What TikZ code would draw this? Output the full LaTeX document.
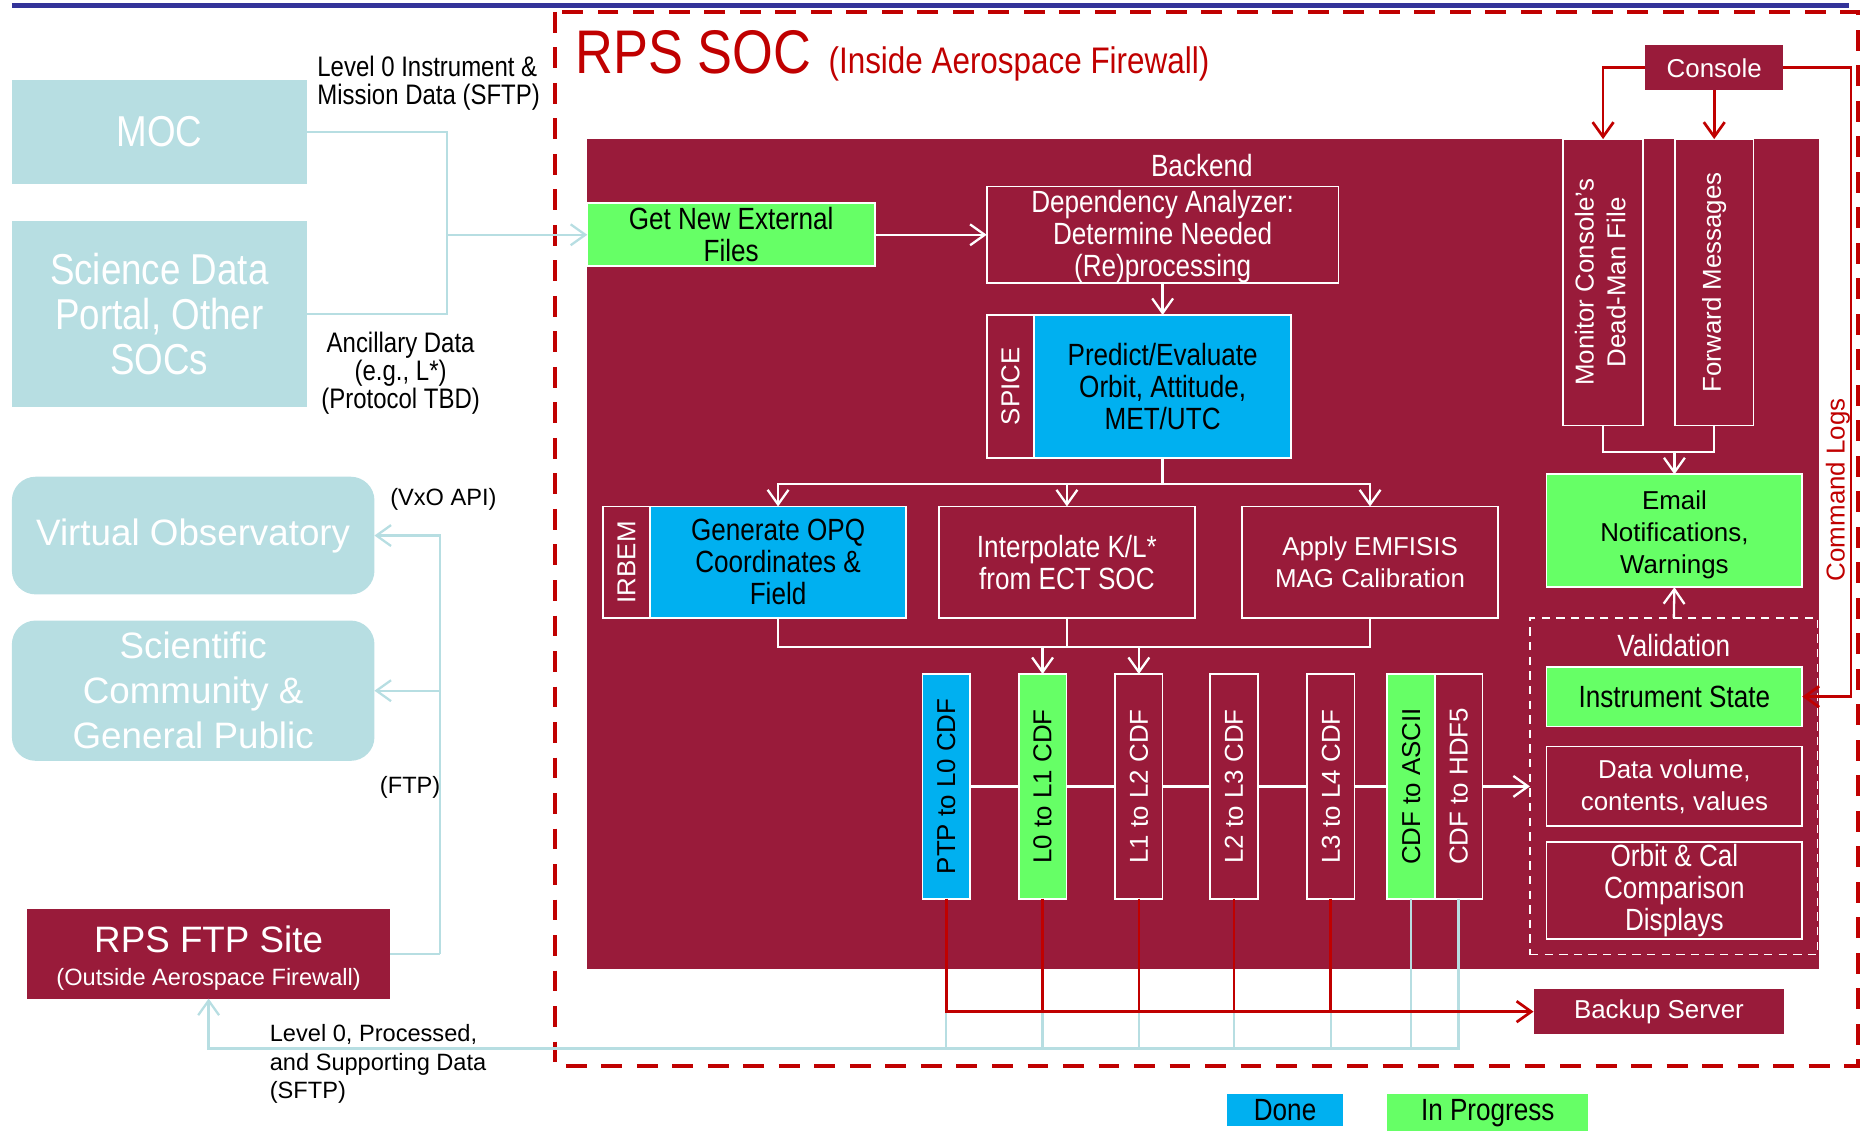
\documentclass[tikz,border=0pt]{standalone}
\usepackage{fontspec}
\setmainfont{Liberation Sans}
\newfontfamily\narrowfont[FakeStretch=0.85]{Liberation Sans}
\usepackage{graphicx}
\usepackage{xcolor}
\usepackage{tikz}
\usetikzlibrary{
  arrows.meta,
  positioning,
  calc,
}

\definecolor{socred}{RGB}{153,27,58}
\definecolor{srcteal}{RGB}{183,222,226}
\definecolor{doneblue}{RGB}{0,176,240}
\definecolor{proggreen}{RGB}{102,255,102}
\definecolor{fwred}{RGB}{192,0,0}
\definecolor{topblue}{RGB}{51,51,153}

% one pixel of the layout grid
\newdimen\upx
\upx=0.02cm

\newcommand{\txtreg}{\fontsize{12.4pt}{15.3pt}\selectfont}
\newcommand{\txtnar}{\narrowfont\fontsize{14.7pt}{15.3pt}\selectfont}
\newcommand{\txtsmall}{\fontsize{11.3pt}{13.6pt}\selectfont}
\newcommand{\txtsmallnar}{\narrowfont\fontsize{13.5pt}{13.6pt}\selectfont}
\newcommand{\txtbig}{\fontsize{17.6pt}{21.5pt}\selectfont}
\newcommand{\txtbignar}{\narrowfont\fontsize{20.7pt}{21.5pt}\selectfont}

\begin{document}
\begin{tikzpicture}[
  x=0.02cm, y=-0.02cm,
  every node/.style={inner sep=0pt, outer sep=0pt},
  srcbox/.style={fill=srcteal, text=white, align=center},
  procbox/.style={
    fill=socred, draw=white, line width=0.8pt,
    text=white, align=center, font=\txtreg,
  },
  donebox/.style={
    fill=doneblue, draw=white, line width=0.8pt,
    text=black, align=center, font=\txtreg,
  },
  progbox/.style={
    fill=proggreen, draw=white, line width=0.8pt,
    text=black, align=center, font=\txtreg,
  },
  colbox/.style={minimum width=40\upx, minimum height=189\upx},
  wide/.style={minimum width=215\upx},
  wline/.style={draw=white, line width=1.1pt},
  warrow/.style={wline, -{Straight Barb[length=7pt, width=10pt]}},
  rline/.style={draw=fwred, line width=1.3pt},
  rarrow/.style={rline, -{Straight Barb[length=7pt, width=10pt]}},
  lbline/.style={draw=srcteal, line width=1.1pt},
  lbarrow/.style={lbline, -{Straight Barb[length=7pt, width=10pt]}},
]
  \useasboundingbox (0,0) rectangle (1568,951);

  % Page rule and firewall frame
  \draw[topblue, line width=2.6pt] (10,4.5) -- (1555,4.5);
  \draw[fwred, line width=2pt, dash pattern=on 10pt off 7pt] (467,10) rectangle (1563,897);

  \node[anchor=base west, text=fwred, font=\narrowfont\fontsize{29.5pt}{31pt}\selectfont] (soctitle) at (484,62) {RPS SOC};
  \node[anchor=base west, text=fwred, font=\narrowfont\fontsize{17.7pt}{20pt}\selectfont] (socsub) at (697,62) {(Inside Aerospace Firewall)};

  % External data sources
  \node[srcbox, minimum width=248\upx, minimum height=88\upx, font=\txtbignar] (moc) at (134,111) {MOC};
  \node[srcbox, minimum width=248\upx, minimum height=156\upx, font=\txtbignar] (sdp) at (134,264) {Science Data\\Portal, Other\\SOCs};

  \node[align=left, anchor=west, font=\txtsmallnar] (lvl0lbl) at (267,70) {Level 0 Instrument \&\\Mission Data (SFTP)};
  \node[align=center, font=\txtsmallnar] (anclbl) at (337,314) {Ancillary Data\\(e.g., L*)\\(Protocol TBD)};

  % Public side
  \node[srcbox, rounded corners=0.4cm, minimum width=305\upx, minimum height=99\upx, font=\txtbig] (vo) at (162.5,450.5) {Virtual Observatory};
  \node[srcbox, rounded corners=0.4cm, minimum width=305\upx, minimum height=118\upx, font=\txtbig] (sci) at (162.5,581) {Scientific\\Community \&\\General Public};
  \node[procbox, draw=none, minimum width=305\upx, minimum height=75\upx, font=\txtsmall] (ftp) at (175.5,802.5) {{\txtbig\rule{0pt}{16.6pt}RPS FTP Site}\\[2pt](Outside Aerospace Firewall)};

  \node[font=\txtsmall] (vxolbl) at (373,420) {(VxO API)};
  \node[font=\txtsmall] (ftplbl) at (345,662) {(FTP)};
  \node[align=left, anchor=west, font=\txtsmall] (publbl) at (227,895) {Level 0, Processed,\\and Supporting Data\\(SFTP)};

  % Backend
  \node[fill=socred, minimum width=1036\upx, minimum height=698\upx] (backend) at (1012,466) {};
  \node[text=white, font=\txtnar] (backendlbl) at (1011,139) {Backend};

  \node[progbox, minimum width=242\upx, minimum height=53\upx, font=\txtnar] (getnew) at (615,197.5) {Get New External\\Files};
  \node[procbox, minimum width=296\upx, minimum height=81\upx, font=\txtnar] (dep) at (978,197.5) {\rule{0pt}{12.2pt}Dependency Analyzer:\\Determine Needed\\(Re)processing};

  \node[procbox, minimum width=40\upx, minimum height=120\upx] (spice) at (850,325) {\rotatebox{90}{SPICE}};
  \node[donebox, minimum width=216\upx, minimum height=120\upx, font=\txtnar] (predict) at (978,325) {Predict/Evaluate\\Orbit, Attitude,\\MET/UTC};

  \node[procbox, minimum width=40\upx, minimum height=94\upx] (irbem) at (527,473) {\rotatebox{90}{IRBEM}};
  \node[donebox, wide, minimum height=94\upx, font=\txtnar] (genopq) at (654.5,473) {Generate OPQ\\Coordinates \&\\Field};
  \node[procbox, wide, minimum height=94\upx, font=\txtnar] (interp) at (897.5,473) {Interpolate K/L*\\from ECT SOC};
  \node[procbox, wide, minimum height=94\upx] (emfisis) at (1152.5,473) {Apply EMFISIS\\MAG Calibration};

  % Product levels
  \node[donebox, colbox] (c0) at (796,661.5) {\rotatebox{90}{PTP to L0 CDF}};
  \node[progbox, colbox] (c1) at (877,661.5) {\rotatebox{90}{L0 to L1 CDF}};
  \node[procbox, colbox] (c2) at (958,661.5) {\rotatebox{90}{L1 to L2 CDF}};
  \node[procbox, colbox] (c3) at (1038,661.5) {\rotatebox{90}{L2 to L3 CDF}};
  \node[procbox, colbox] (c4) at (1119.5,661.5) {\rotatebox{90}{L3 to L4 CDF}};
  \node[progbox, colbox] (c5) at (1187,661.5) {\rotatebox{90}{CDF to ASCII}};
  \node[procbox, colbox] (c6) at (1227,661.5) {\rotatebox{90}{CDF to HDF5}};

  % Validation
  \node[draw=white, dash pattern=on 4pt off 3pt, line width=0.8pt, minimum width=242\upx, minimum height=283\upx] (valid) at (1408,661.5) {};
  \node[text=white, font=\txtnar] (validlbl) at (1408,543) {Validation};
  \node[progbox, wide, minimum height=50\upx, font=\txtnar] (inst) at (1408.5,586) {Instrument State};
  \node[procbox, wide, minimum height=67\upx] (datavol) at (1408.5,661.5) {Data volume,\\contents, values};
  \node[procbox, wide, minimum height=82\upx, font=\txtnar] (orbcal) at (1408.5,749) {Orbit \& Cal\\Comparison\\Displays};

  % Monitoring and alerts
  \node[progbox, wide, minimum height=95\upx] (email) at (1408.5,446.5) {\rule{0pt}{12.4pt}Email\\Notifications,\\Warnings};
  \node[procbox, minimum width=67\upx, minimum height=241\upx] (monitor) at (1348.5,237.5) {\rotatebox{90}{\begin{tabular}{@{}c@{}}Monitor Console’s\\Dead-Man File\end{tabular}}};
  \node[procbox, minimum width=66\upx, minimum height=241\upx] (forward) at (1442,237.5) {\rotatebox{90}{Forward Messages}};
  \node[procbox, draw=none, minimum width=116\upx, minimum height=38\upx] (console) at (1442,57) {Console};
  \node[rotate=90, text=fwred, font=\txtreg] (cmdlbl) at (1546,412) {Command Logs};

  \node[procbox, draw=none, minimum width=211\upx, minimum height=38\upx] (backup) at (1395.5,851) {Backup Server};

  % Legend
  \node[fill=doneblue, minimum width=98\upx, minimum height=27\upx, font=\txtnar] (legdone) at (1081,933.5) {Done};
  \node[fill=proggreen, minimum width=169\upx, minimum height=31\upx, font=\txtnar] (legprog) at (1251.5,936) {In Progress};

  % Arrows: external sources -> backend
  \coordinate (srcjoin) at (376,197.5);
  \draw[lbline] (moc.east) -| (srcjoin);
  \draw[lbline] (sdp.east) -| (srcjoin);
  \draw[lbarrow] (srcjoin) -- (getnew.west);

  % Arrows: FTP site -> public
  \coordinate (pubbus) at (370,802.5);
  \draw[lbline] (ftp.east) -- (pubbus);
  \draw[lbarrow] (pubbus) |- (vo.east);
  \draw[lbarrow] (pubbus |- sci.east) -- (sci.east);

  % Arrows: backend pipeline
  \draw[warrow] (getnew) -- (dep);
  \draw[warrow] (dep) -- (predict);
  \coordinate (predsplit) at (978,407);
  \draw[wline] (predict.south) -- (predsplit);
  \draw[warrow] (predsplit) -| (genopq.north);
  \draw[warrow] (predsplit) -| (interp.north);
  \draw[warrow] (predsplit) -| (emfisis.north);

  \coordinate (prodjoin) at (917,544);
  \draw[wline] (genopq.south) |- (prodjoin) -| (emfisis.south);
  \draw[wline] (interp.south) -- (interp.south |- prodjoin);
  \draw[warrow] (c1.north |- prodjoin) -- (c1.north);
  \draw[warrow] (c2.north |- prodjoin) -- (c2.north);

  \draw[wline] (c0) -- (c1);
  \draw[wline] (c1) -- (c2);
  \draw[wline] (c2) -- (c3);
  \draw[wline] (c3) -- (c4);
  \draw[wline] (c4) -- (c5);
  \draw[warrow] (c6) -- (valid);

  % Arrows: monitoring
  \coordinate (alertjoin) at (1408.5,380);
  \draw[wline] (monitor.south) |- (alertjoin) -| (forward.south);
  \draw[warrow] (alertjoin) -- (email.north);
  \draw[warrow] (valid.north) -- (email.south);

  \draw[rarrow] (console.west) -| (monitor.north);
  \draw[rarrow] (console.south) -- (forward.north);
  \draw[rarrow] (console.east) -- ++(57,0) |- (inst.east);

  % Products -> FTP site and backup
  \coordinate (ftpbus) at (0,882);
  \foreach \c in {c0,c1,c2,c3,c4,c5}
    \draw[lbline] (\c.south) -- (\c.south |- ftpbus);
  \draw[lbarrow] (c6.south) |- (ftpbus -| ftp.south) -- (ftp.south);

  \draw[rarrow] (c0.south) |- (backup.west);
  \foreach \c in {c1,c2,c3,c4}
    \draw[rline] (\c.south) -- (\c.south |- backup.west);

\end{tikzpicture}
\end{document}
